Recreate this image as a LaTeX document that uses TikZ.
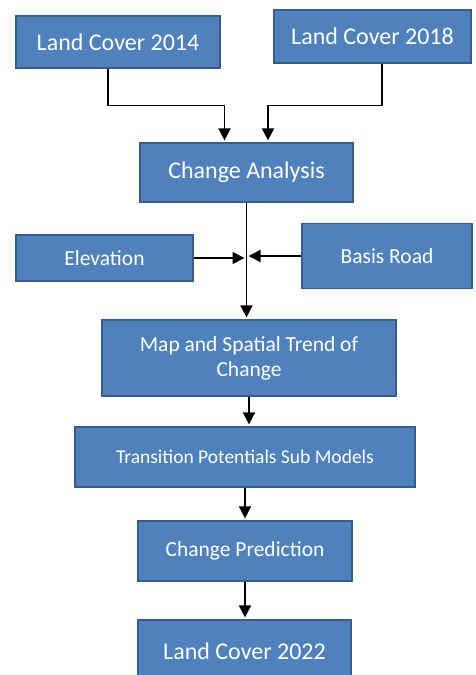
\documentclass[tikz,border=0pt]{standalone}
\usepackage{fontspec}
\setmainfont{Carlito}
\usetikzlibrary{arrows.meta,calc}
\definecolor{boxfill}{RGB}{79,129,189}
\definecolor{boxline}{RGB}{56,93,138}
\begin{document}
\begin{tikzpicture}[x=1pt,y=-1pt,
    box/.style={draw=boxline, fill=boxfill, line width=1.2pt, text=white, align=center, inner sep=0pt},
    big/.style={font=\fontsize{24}{28}\selectfont},
    mid/.style={font=\fontsize{21.5}{25}\selectfont},
    small/.style={font=\fontsize{19.5}{23}\selectfont},
    arr/.style={line width=1.6pt, -{Triangle[width=12pt,length=12pt]}, shorten >=2pt}]
  \useasboundingbox[fill=white] (0,0) rectangle (476,675);
  \node[box, big, minimum width=204pt, minimum height=52pt] (lc14) at (118,42) {Land Cover 2014};
  \node[box, big, minimum width=197pt, minimum height=53pt] (lc18) at (372.5,36.5) {Land Cover 2018};
  \node[box, big, minimum width=213pt, minimum height=59pt] (change) at (246.5,172.5) {Change Analysis};
  \node[box, mid, minimum width=177pt, minimum height=46pt] (elev) at (104.5,258) {Elevation};
  \node[box, mid, minimum width=170pt, minimum height=65pt] (road) at (387,256) {Basis Road};
  \node[box, mid, minimum width=294pt, minimum height=76pt] (map) at (249,358) {Map and Spatial Trend of\\Change};
  \node[box, small, minimum width=340pt, minimum height=60pt] (trans) at (245,457) {Transition Potentials Sub Models};
  \node[box, mid, minimum width=214pt, minimum height=60pt] (pred) at (245,551) {Change Prediction};
  \node[box, big, minimum width=213pt, minimum height=62pt] (lc22) at (244.5,651) {Land Cover 2022};
  \draw[arr] ([xshift=-10pt]lc14.south) -- ++(0,37) -| ([xshift=-22pt]change.north);
  \draw[arr] ([xshift=9.5pt]lc18.south) -- ++(0,42) -| ([xshift=21.5pt]change.north);
  \draw[arr] (change.south) -- (change.south |- map.north);
  \draw[arr] (elev.east) -- (elev.east -| change.south);
  \draw[arr] (road.west) -- (road.west -| change.south);
  \draw[arr] (map.south) -- (map.south |- trans.north);
  \draw[arr] (trans.south) -- (pred.north);
  \draw[arr] (pred.south) -- (pred.south |- lc22.north);
\end{tikzpicture}
\end{document}
